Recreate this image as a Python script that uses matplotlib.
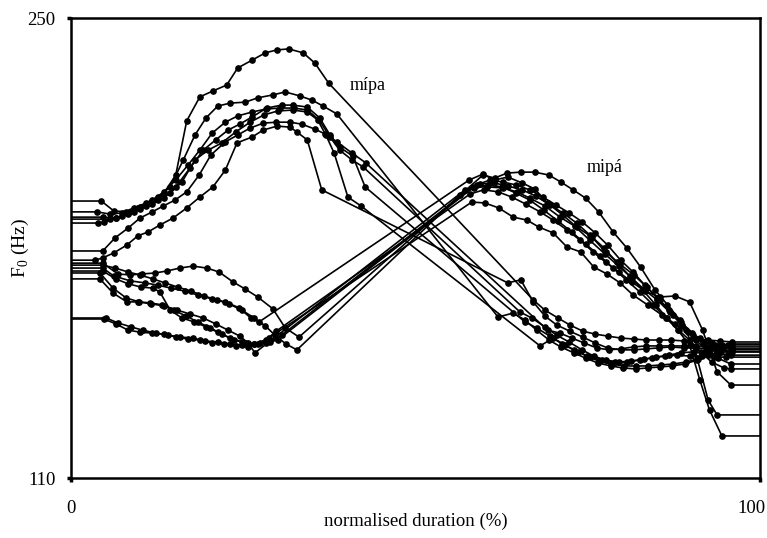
import matplotlib
matplotlib.use("Agg")
import matplotlib.pyplot as plt
from matplotlib.transforms import ScaledTranslation

plt.rcParams["font.family"] = ["Liberation Serif", "DejaVu Serif"]
plt.rcParams["mathtext.fontset"] = "custom"
plt.rcParams["mathtext.rm"] = "Liberation Serif"

# F0 contours, x = normalised duration (%), y = F0 (Hz)
# each list: first vowel points, then second vowel points

# mípa (stress on first syllable)
ini1_x = [4.4, 6.2, 8.0, 9.7, 11.5, 13.2, 15.2, 16.8, 18.7, 20.6, 22.6, 24.2, 26.3, 28.2, 29.9, 31.6, 33.7, 35.4, 37.4,
          67.1, 68.8, 70.7, 72.4, 74.3, 76.1, 77.9, 79.8, 81.7, 83.5, 85.3, 87.1, 89.0, 90.7, 92.5, 94.2, 95.9]
ini1_y = [194.3, 191.3, 191.0, 192.2, 193.7, 195.8, 202.2, 218.7, 226.0, 227.8, 229.6, 234.8, 237.2, 239.4, 240.3, 240.6, 239.4, 236.3, 230.2,
          164.2, 161.1, 158.7, 156.6, 154.7, 153.8, 153.2, 152.6, 152.3, 152.0, 152.0, 152.0, 151.7, 152.0, 152.0, 151.7, 151.4]

ini2_x = [3.8, 5.7, 7.4, 9.1, 10.9, 12.6, 14.4, 16.3, 18.0, 19.6, 21.3, 23.1, 25.3, 27.1, 29.3, 31.1, 33.2, 35.0, 36.6, 38.6,
          62.0, 64.2, 65.9, 67.6, 69.4, 71.1, 73.0, 74.7, 76.5, 78.4, 80.1, 82.0, 83.7, 85.5, 87.2, 89.1, 90.9, 92.6, 94.3, 95.9]
ini2_y = [191.0, 190.3, 190.7, 192.2, 193.7, 195.5, 198.6, 206.8, 214.4, 219.6, 223.2, 224.1, 224.4, 225.7, 226.6, 227.5, 226.3, 225.0, 223.2, 220.8,
          159.0, 160.2, 158.1, 155.0, 152.0, 149.9, 148.1, 146.5, 145.0, 144.1, 143.5, 143.2, 143.5, 143.8, 144.1, 144.7, 145.9, 147.4, 148.4, 149.0]

ini3_x = [4.6, 6.5, 8.3, 10.0, 11.8, 13.5, 15.2, 17.3, 19.2, 21.0, 22.8, 24.5, 26.3, 28.4, 30.6, 32.2, 34.3, 36.1, 37.6, 39.0, 40.9, 42.7,
          65.9, 67.6, 69.5, 71.3, 73.0, 74.9, 76.6, 78.4, 80.3, 82.0, 83.7, 85.6, 87.4, 89.3, 91.0, 92.7, 94.5, 95.9]
ini3_y = [189.4, 189.1, 190.3, 191.9, 193.4, 195.2, 198.6, 204.4, 209.8, 212.9, 215.9, 217.7, 219.9, 222.6, 223.5, 223.5, 222.9, 219.6, 214.4, 210.7, 208.0, 198.6,
          157.5, 155.7, 153.2, 150.8, 149.0, 147.1, 145.6, 144.7, 144.1, 144.1, 144.1, 144.4, 144.7, 145.3, 146.2, 149.0, 150.5, 150.8]

ini4_x = [5.7, 7.4, 9.1, 10.9, 12.6, 14.4, 16.1, 18.0, 19.9, 21.9, 23.9, 26.0, 28.0, 30.0, 32.2, 34.3, 35.8, 37.0, 38.2, 40.2, 42.1,
          68.1, 70.0, 71.7, 73.6, 75.3, 77.1, 79.0, 80.7, 82.6, 84.3, 86.2, 88.0, 89.8, 91.6, 93.3, 95.1]
ini4_y = [188.8, 189.7, 191.0, 192.8, 194.6, 196.7, 200.1, 206.8, 209.8, 212.0, 215.3, 218.3, 220.5, 221.7, 222.0, 221.4, 219.0, 214.4, 208.9, 195.5, 192.8,
          150.2, 152.6, 150.5, 148.4, 146.8, 145.9, 145.3, 145.3, 145.9, 146.5, 147.1, 147.4, 147.1, 147.1, 146.8, 146.8]

ini5_x = [3.9, 4.8, 6.5, 8.3, 10.0, 11.8, 13.5, 15.2, 17.0, 18.7, 20.5, 22.4, 24.2, 26.3, 28.3, 30.3, 32.4, 34.3, 36.0, 37.6, 39.0, 40.8, 42.4,
          65.2, 66.9, 68.8, 70.5, 72.3, 74.2, 75.9, 77.6, 79.5, 81.3, 83.2, 84.9, 86.8, 88.5, 90.4, 92.2, 93.9, 95.8]
ini5_y = [187.6, 187.9, 189.1, 190.7, 192.5, 194.6, 197.1, 200.7, 205.3, 209.8, 215.0, 218.3, 220.2, 221.4, 222.3, 222.6, 222.6, 222.0, 219.0, 213.8, 209.8, 206.8, 204.7,
          160.5, 158.7, 156.0, 153.5, 151.4, 149.0, 147.1, 145.9, 145.3, 145.6, 146.2, 146.8, 147.4, 148.1, 148.4, 148.1, 147.7, 147.4]

ini6_x = [4.6, 6.4, 8.3, 10.0, 11.8, 13.4, 15.1, 16.8, 18.6, 20.3, 22.4, 24.2, 26.0, 27.9, 29.8, 31.8, 33.5, 35.4, 36.9, 38.6, 40.8, 42.8,
          69.2, 71.0, 72.7, 74.5, 76.3, 78.1, 79.8, 81.7, 83.5, 85.3, 87.1, 89.0, 90.7, 92.6, 94.3, 95.9]
ini6_y = [179.1, 183.1, 186.1, 189.1, 191.0, 192.8, 194.6, 197.1, 202.2, 208.3, 212.3, 214.4, 216.5, 218.0, 218.3, 218.3, 217.7, 216.2, 214.7, 212.3, 208.9, 205.9,
          155.0, 154.1, 152.6, 151.1, 149.6, 149.0, 149.3, 149.9, 150.2, 150.2, 150.2, 150.2, 150.2, 149.9, 149.9, 149.9]

ini7_x = [3.5, 4.6, 6.2, 8.1, 9.7, 11.2, 12.9, 14.8, 16.8, 18.7, 20.6, 22.4, 24.1, 26.3, 27.9, 29.9, 31.8, 32.8, 34.3, 36.4,
          63.4, 65.3, 67.1, 68.8, 70.5, 72.4, 74.3, 76.1, 77.9, 79.8, 81.7, 83.5, 85.3, 87.1, 89.0, 90.7, 92.6, 94.3, 95.9]
ini7_y = [176.3, 177.0, 178.5, 180.9, 183.7, 184.9, 187.0, 189.1, 192.2, 195.5, 198.6, 203.7, 212.0, 213.8, 215.9, 217.1, 216.8, 215.3, 212.9, 197.7,
          169.4, 170.3, 163.6, 159.3, 156.6, 154.7, 152.9, 151.1, 149.6, 149.0, 149.0, 149.3, 149.6, 149.9, 149.6, 149.6, 149.3, 149.0, 148.4]

# mipá (stress on second syllable)
fin1_x = [4.6, 6.8, 8.6, 10.3, 12.2, 13.9, 15.8, 17.7, 19.7, 21.5, 23.5, 25.3, 27.1, 29.3, 31.1, 33.1,
          59.8, 61.5, 63.3, 65.3, 67.3, 69.4, 71.1, 72.9, 74.7, 76.6, 78.7, 80.7, 82.7, 84.8, 86.6, 88.4, 90.1, 91.7, 93.5, 95.4]
fin1_y = [175.4, 172.1, 171.8, 172.1, 172.4, 173.0, 173.9, 174.5, 173.9, 172.7, 169.7, 167.5, 165.1, 161.5, 155.7, 152.9,
          202.2, 201.3, 202.8, 203.1, 203.1, 202.2, 200.1, 197.7, 195.2, 191.0, 184.9, 180.0, 174.2, 167.2, 162.7, 158.1, 154.1, 151.4, 150.5, 150.5]

fin2_x = [4.6, 6.2, 8.6, 10.7, 12.6, 14.5, 16.5, 18.4, 20.5, 22.4, 24.4, 26.1, 27.3,
          57.8, 59.8, 61.5, 63.4, 65.5, 67.3, 69.2, 71.4, 73.4, 75.6, 77.6, 79.7, 81.7, 83.6, 85.5, 87.4, 89.3, 90.9, 92.5, 93.8]
fin2_y = [173.9, 171.5, 170.0, 169.4, 168.7, 167.8, 166.9, 165.7, 164.5, 163.6, 161.8, 158.7, 157.5,
          200.7, 202.5, 200.7, 201.6, 199.8, 198.0, 193.7, 190.0, 186.4, 183.4, 178.8, 175.1, 171.8, 168.1, 164.2, 159.6, 155.0, 146.5, 133.7, 129.2]

fin3_x = [4.6, 6.5, 8.3, 10.2, 11.9, 12.9, 14.4, 16.1, 17.9, 19.6, 21.3, 23.1, 24.8, 26.6, 28.3, 30.0,
          58.9, 60.8, 62.7, 64.6, 66.6, 68.5, 70.4, 72.3, 74.2, 76.1, 77.9, 79.8, 81.6, 83.3, 85.1, 86.8, 88.5, 90.3, 92.0, 93.6, 95.4]
fin3_y = [173.0, 170.6, 169.1, 168.1, 167.8, 166.6, 161.1, 158.7, 157.5, 156.0, 154.4, 152.6, 151.4, 150.8, 151.1, 152.0,
          199.2, 200.7, 200.1, 199.2, 197.7, 195.5, 193.1, 190.7, 188.0, 184.6, 180.9, 176.3, 172.7, 168.7, 164.8, 161.1, 157.5, 153.5, 150.5, 149.0, 148.4]

fin4_x = [4.2, 6.1, 8.0, 9.9, 11.6, 13.5, 15.4, 17.3, 19.2, 21.0, 22.8, 24.5, 25.7, 26.7,
          57.2, 59.4, 61.4, 63.4, 65.5, 67.5, 69.5, 71.4, 73.4, 75.3, 77.4, 79.2, 81.1, 83.0, 84.9, 86.5, 88.1, 89.8, 91.3, 92.7, 94.5]
fin4_y = [172.4, 167.8, 164.8, 163.6, 163.0, 162.4, 161.1, 159.9, 158.7, 156.9, 155.0, 153.2, 151.1, 148.1,
          197.7, 199.5, 199.8, 198.9, 197.7, 195.8, 193.1, 190.7, 187.6, 184.0, 180.0, 175.7, 171.5, 167.2, 162.7, 158.7, 155.0, 150.5, 139.8, 130.7, 122.8]

fin5_x = [4.2, 6.1, 8.1, 9.7, 11.5, 13.2, 14.9, 16.7, 18.4, 20.2, 21.9, 23.7, 25.4, 27.1, 28.9, 30.6,
          58.3, 60.4, 62.7, 64.7, 66.6, 68.8, 71.0, 73.1, 75.3, 77.5, 79.5, 81.4, 83.3, 85.1, 86.9, 88.7, 90.4, 92.2, 93.9, 95.8]
fin5_y = [170.6, 166.3, 163.6, 163.6, 163.3, 162.7, 161.1, 159.3, 157.5, 155.7, 153.8, 152.0, 151.1, 150.8, 151.4, 153.5,
          198.6, 198.6, 198.3, 197.1, 195.2, 192.8, 189.4, 186.7, 182.4, 178.2, 174.5, 170.9, 167.2, 164.2, 160.5, 156.6, 152.6, 149.0, 146.5, 144.7]

fin6_x = [5.1, 6.8, 8.7, 10.4, 12.3, 14.1, 15.8, 17.7, 19.4, 21.3, 23.1, 24.8, 26.6, 28.3, 29.8,
          57.9, 59.9, 62.0, 64.0, 66.0, 68.1, 70.0, 72.0, 73.9, 75.8, 77.6, 79.5, 81.4, 83.3, 85.5, 87.7, 89.8, 91.7, 93.8, 95.8]
fin6_y = [158.7, 157.2, 156.0, 155.0, 154.1, 153.5, 152.9, 152.6, 151.7, 151.4, 150.8, 150.5, 150.8, 152.0, 154.7,
          196.4, 197.7, 197.1, 195.5, 193.4, 191.0, 188.5, 185.5, 182.4, 178.8, 175.7, 172.7, 169.7, 166.9, 165.1, 165.4, 163.6, 155.0, 142.3, 138.3]

fin7_x = [4.8, 6.5, 8.3, 10.0, 11.8, 13.5, 15.2, 17.0, 18.7, 20.5, 22.2, 23.9, 25.7, 27.4, 28.7,
          58.2, 60.1, 62.1, 64.2, 66.2, 67.9, 70.0, 72.0, 74.0, 75.9, 77.8, 79.7, 81.6, 83.7, 85.8, 87.7, 89.6, 91.3, 93.0, 94.8, 95.9]
fin7_y = [158.4, 156.9, 155.0, 154.4, 154.1, 153.8, 152.9, 152.3, 152.0, 151.1, 150.8, 150.2, 149.9, 151.1, 152.6,
          194.0, 193.7, 192.2, 189.4, 188.5, 186.4, 184.6, 180.3, 178.8, 174.2, 172.1, 169.4, 165.7, 162.7, 159.6, 156.9, 154.4, 152.6, 151.1, 149.9, 149.3]

fin8_x = [4.6, 6.4, 8.3, 10.0, 11.9, 13.6, 15.5, 17.4, 19.3, 21.2, 22.9, 24.8, 26.6, 28.2, 29.6, 31.2, 32.8,
          56.5, 58.5, 60.5, 62.6, 64.6, 66.6, 68.6, 70.7, 72.7, 74.7, 76.8, 78.7, 80.6, 82.6, 84.5, 86.4, 88.2, 89.8, 91.4, 93.0, 94.8, 95.8]
fin8_y = [174.8, 173.9, 172.7, 171.8, 170.6, 169.4, 168.1, 166.9, 165.4, 164.2, 163.0, 161.1, 158.7, 156.3, 153.5, 150.8, 149.0,
          196.1, 198.3, 199.2, 198.6, 196.7, 194.6, 191.6, 188.2, 184.9, 181.2, 177.6, 173.9, 170.3, 166.6, 162.7, 158.7, 155.0, 152.0, 148.4, 145.3, 143.5, 143.2]

contours = [
    (ini1_x, ini1_y), (ini2_x, ini2_y), (ini3_x, ini3_y), (ini4_x, ini4_y),
    (ini5_x, ini5_y), (ini6_x, ini6_y), (ini7_x, ini7_y),
    (fin1_x, fin1_y), (fin2_x, fin2_y), (fin3_x, fin3_y), (fin4_x, fin4_y),
    (fin5_x, fin5_y), (fin6_x, fin6_y), (fin7_x, fin7_y), (fin8_x, fin8_y),
]

fig = plt.figure(figsize=(7.67, 5.38), dpi=100)
ax = fig.add_axes([0.0926, 0.1115, 0.898, 0.855])

for xs, ys in contours:
    # flat lead-in from 0 % and lead-out to 100 %, without markers
    px = [0] + xs + [100]
    py = [ys[0]] + ys + [ys[-1]]
    ax.plot(px, py, color="black", lw=1.2, marker="o", ms=3.8,
            markevery=slice(1, len(px) - 1), solid_joinstyle="miter")

ax.text(43.1, 229.6, "mípa", fontsize=13, ha="center", va="center")
ax.text(77.5, 204.4, "mipá", fontsize=13, ha="center", va="center")

ax.set_xlim(0, 100)
ax.set_ylim(110, 250)
ax.set_xticks([0, 100])
ax.set_yticks([110, 250])
ax.tick_params(axis="both", labelsize=13.5, length=3, width=2.5, direction="out")
ax.tick_params(axis="x", pad=13)
ax.tick_params(axis="y", pad=8)
for s in ax.spines.values():
    s.set_linewidth(1.8)

# keep the "100" label inside the figure, as in the original
fig.canvas.draw()
lab100 = ax.get_xticklabels()[-1]
lab100.set_ha("right")
lab100.set_transform(lab100.get_transform() + ScaledTranslation(6 / 100, 0, fig.dpi_scale_trans))

ax.set_xlabel("normalised duration (%)", fontsize=13.5, labelpad=-3)
ax.set_ylabel("F$_0$ (Hz)", fontsize=14, va="center")
ax.yaxis.set_label_coords(-0.074, 0.5)

fig.savefig("out.png", dpi=100)
